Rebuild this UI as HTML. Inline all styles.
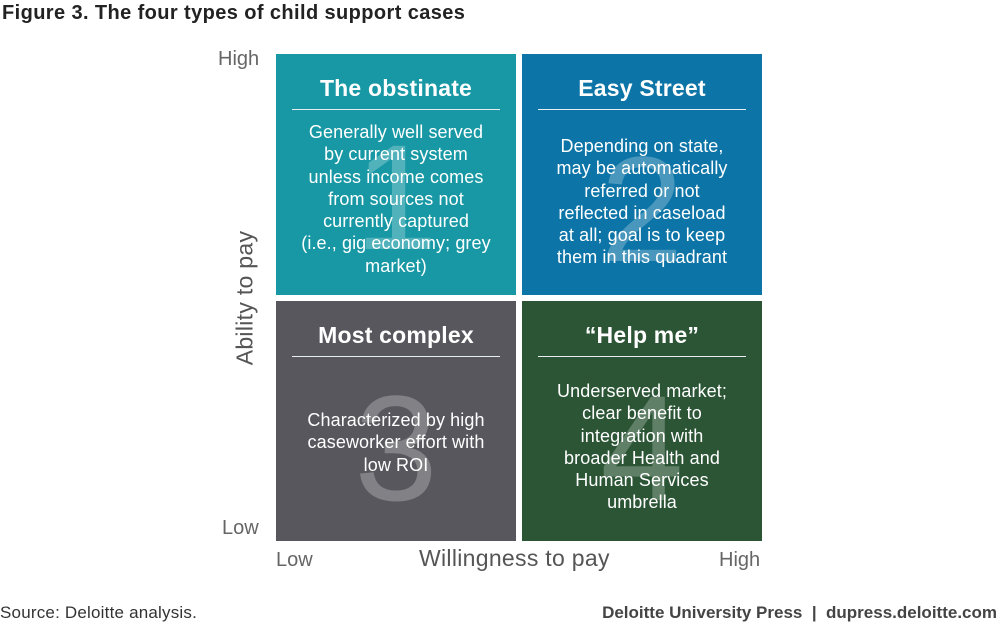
<!DOCTYPE html>
<html><head><meta charset="utf-8"><style>
body{margin:0;width:1000px;height:627px;background:#fff;font-family:"Liberation Sans",sans-serif;position:relative;overflow:hidden}
.a{position:absolute}
.box{position:absolute;width:240px;height:240px;color:#fff;overflow:hidden}
.box h2{position:absolute;left:0;width:240px;top:21px;margin:0;text-align:center;font-size:23px;font-weight:bold;letter-spacing:0.2px}
.box .ln{position:absolute;left:16px;width:208px;top:55px;border-top:1.5px solid #e8eef0}
.box .num{position:absolute;left:0;width:240px;text-align:center;font-size:150px;line-height:150px;color:rgba(255,255,255,0.25)}
.box .tx{position:absolute;left:0;width:240px;text-align:center;font-size:18px;line-height:22.3px;letter-spacing:0.1px;white-space:nowrap}
.ax{font-size:20px;color:#666}
</style></head><body>
<div class="a" style="left:2px;top:2px;font-size:20px;font-weight:bold;color:#222;letter-spacing:0.4px">Figure 3. The four types of child support cases</div>
<div class="a ax" style="left:218px;top:48px">High</div>
<div class="a ax" style="left:222px;top:517px">Low</div>
<div class="a ax" style="left:276px;top:549px">Low</div>
<div class="a ax" style="left:719px;top:549px">High</div>
<div class="a" style="left:419px;top:545px;font-size:23px;color:#555;letter-spacing:0.3px">Willingness to pay</div>
<div class="a" style="left:245px;top:298px;font-size:23px;color:#555;letter-spacing:0.3px;transform:translate(-50%,-50%) rotate(-90deg);white-space:nowrap">Ability to pay</div>

<div class="box" style="left:276px;top:54px;background:#1798a4;height:241px">
<div class="num" style="top:68px">1</div>
<h2>The obstinate</h2><div class="ln"></div>
<div class="tx" style="top:67px">Generally well served<br>by current system<br>unless income comes<br>from sources not<br>currently captured<br>(i.e., gig economy; grey<br>market)</div></div>

<div class="box" style="left:522px;top:54px;background:#0c74a6;height:241px">
<div class="num" style="top:80px">2</div>
<h2>Easy Street</h2><div class="ln"></div>
<div class="tx" style="top:81px">Depending on state,<br>may be automatically<br>referred or not<br>reflected in caseload<br>at all; goal is to keep<br>them in this quadrant</div></div>

<div class="box" style="left:276px;top:301px;background:#58575d">
<div class="num" style="top:72px">3</div>
<h2>Most complex</h2><div class="ln"></div>
<div class="tx" style="top:108px">Characterized by high<br>caseworker effort with<br>low ROI</div></div>

<div class="box" style="left:522px;top:301px;background:#2b5535">
<div class="num" style="top:72px">4</div>
<h2>“Help me”</h2><div class="ln"></div>
<div class="tx" style="top:79px">Underserved market;<br>clear benefit to<br>integration with<br>broader Health and<br>Human Services<br>umbrella</div></div>

<div class="a" style="left:0px;top:603px;font-size:17px;color:#333;letter-spacing:0.2px">Source: Deloitte analysis.</div>
<div class="a" style="right:3px;top:603px;font-size:17px;color:#444;font-weight:bold">Deloitte University Press &nbsp;| &nbsp;dupress.deloitte.com</div>
</body></html>
